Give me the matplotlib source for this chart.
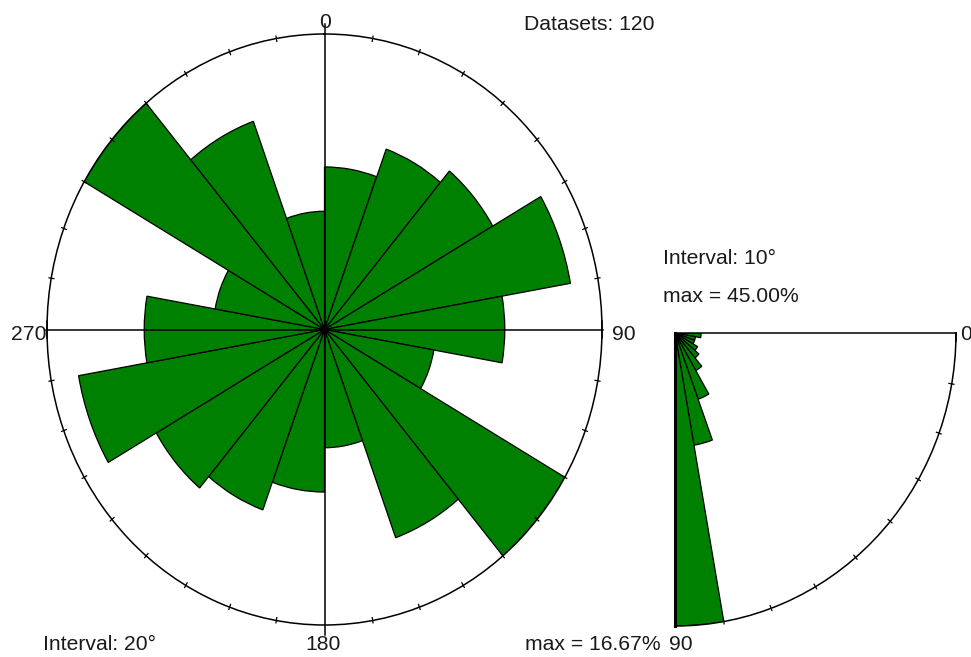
import numpy as np
import matplotlib
matplotlib.use("Agg")
import matplotlib.pyplot as plt

plt.rcParams['font.family'] = ['Liberation Sans', 'DejaVu Sans']

# ---- data ----
n_datasets = 120
# strike rose, 20 degree sectors starting at 0 (percent of datasets)
sector_start = list(range(0, 360, 20))
strike_pct = [9.17, 10.83, 11.67, 15.00, 10.83, 6.67, 16.67, 12.50, 6.67,
              9.17, 10.83, 11.67, 15.00, 10.83, 6.67, 16.67, 12.50, 6.67]
strike_max = 16.67
# dip histogram, 10 degree classes 0..90 (percent)
dip_start = list(range(0, 90, 10))
dip_pct = [4.17, 3.33, 3.33, 4.17, 5.00, 6.67, 10.83, 17.50, 45.00]
dip_max = 45.00

W, H = 971, 657
fig = plt.figure(figsize=(W / 100, H / 100), dpi=100)
GREEN = '#008000'
TXT = '#1a1a1a'
FS = 15.2


def fx(x):
    return x / W


def fy(y):
    return 1 - y / H


# ---- main rose ----
L, R, T, B = 47, 602, 34, 625
ax = fig.add_axes([fx(L), fy(B), (R - L) / W, (B - T) / H], projection='polar')
ax.set_theta_zero_location('N')
ax.set_theta_direction(-1)
ax.set_aspect('auto')
ax.set_ylim(0, strike_max)
theta = np.radians(np.array(sector_start) + 10)
ax.bar(theta, strike_pct, width=np.radians(20), color=GREEN, edgecolor='black',
       linewidth=0.9, zorder=2)
ax.grid(False)
ax.set_xticks([])
ax.set_yticks([])
ax.spines['polar'].set_linewidth(1.1)
# cross lines
for a in (0, 90, 180, 270):
    ext = 1.035 if a in (0, 180) else 1.005
    ax.plot([np.radians(a), np.radians(a)], [0, strike_max * ext], color='black',
            lw=1.1, zorder=3, clip_on=False)
# perpendicular end ticks at 90 / 270
for a in (90, 270):
    ax.plot([np.radians(a - 1.6), np.radians(a + 1.6)], [strike_max, strike_max],
            color='black', lw=1.1, zorder=3, clip_on=False)
# degree ticks
for a in range(0, 360, 10):
    if a % 90 == 0:
        continue
    ax.plot([np.radians(a)] * 2, [strike_max * 0.99, strike_max * 1.008],
            color='black', lw=0.9, clip_on=False, zorder=3)

# ---- dip quarter ----
dL, dR, dT, dB = 675, 956, 333, 626
ax2 = fig.add_axes([fx(dL), fy(dB), (dR - dL) / W, (dB - dT) / H], projection='polar')
ax2.set_theta_zero_location('E')
ax2.set_theta_direction(-1)
ax2.set_thetamin(0)
ax2.set_thetamax(90)
ax2.set_aspect('auto')
ax2.set_ylim(0, dip_max)
dtheta = np.radians(np.array(dip_start) + 5)
ax2.bar(dtheta, dip_pct, width=np.radians(10), color=GREEN, edgecolor='black',
        linewidth=0.9, zorder=2)
ax2.grid(False)
ax2.set_xticks([])
ax2.set_yticks([])
for s in ('start', 'end', 'polar'):
    ax2.spines[s].set_linewidth(1.1)
ax2.spines['end'].set_linewidth(2.2)
ax2.plot([np.radians(0.0), np.radians(1.6)], [dip_max, dip_max], color='black',
         lw=1.1, clip_on=False, zorder=3)
for a in range(10, 90, 10):
    ax2.plot([np.radians(a)] * 2, [dip_max * 0.99, dip_max * 1.008],
             color='black', lw=0.9, clip_on=False, zorder=3)

# ---- texts ----
fig.text(fx(325), fy(22), '0', ha='center', va='center', fontsize=FS, color=TXT)
fig.text(fx(323), fy(645), '180', ha='center', va='center', fontsize=FS, color=TXT)
fig.text(fx(46), fy(334), '270', ha='right', va='center', fontsize=FS, color=TXT)
fig.text(fx(612), fy(334), '90', ha='left', va='center', fontsize=FS, color=TXT)
fig.text(fx(524), fy(25), f'Datasets: {n_datasets}', ha='left', va='center',
         fontsize=FS, color=TXT)
fig.text(fx(43), fy(645), 'Interval: 20°', ha='left', va='center', fontsize=FS, color=TXT)
fig.text(fx(525), fy(645), f'max = {strike_max:.2f}%', ha='left', va='center',
         fontsize=FS, color=TXT)
fig.text(fx(663), fy(258), 'Interval: 10°', ha='left', va='center', fontsize=FS, color=TXT)
fig.text(fx(663), fy(297), f'max = {dip_max:.2f}%', ha='left', va='center',
         fontsize=FS, color=TXT)
fig.text(fx(960), fy(334), '0', ha='left', va='center', fontsize=FS, color=TXT)
fig.text(fx(669), fy(645), '90', ha='left', va='center', fontsize=FS, color=TXT)

fig.savefig('out.png', dpi=100)
